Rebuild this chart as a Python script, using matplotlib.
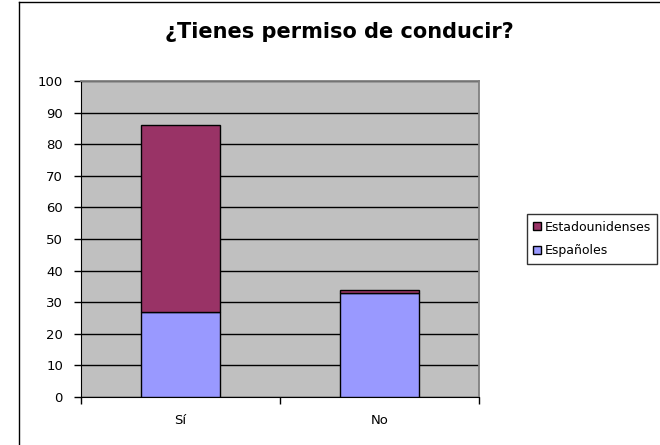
import matplotlib.pyplot as plt
from matplotlib.lines import Line2D
from matplotlib.patches import Patch

categories = ['Sí', 'No']
espanoles = [27, 33]
estadounidenses = [59, 1]
title = '¿Tienes permiso de conducir?'

fig = plt.figure(figsize=(6.6, 4.45), dpi=100)
plt.rcParams['font.family'] = ['DejaVu Sans']

# outer chart frame (only left and top edges fall inside the picture)
fig.add_artist(Line2D([19 / 660, 19 / 660], [0, 1 - 2 / 445], color='black', lw=1))
fig.add_artist(Line2D([19 / 660, 1], [1 - 2 / 445, 1 - 2 / 445], color='black', lw=1))

ax = fig.add_axes([81 / 660, 1 - 397 / 445, 398 / 660, 316 / 445])
ax.set_facecolor('#C0C0C0')

x = range(len(categories))
ax.bar(x, espanoles, width=0.4, color='#9999FF', edgecolor='black', lw=1, zorder=3)
ax.bar(x, estadounidenses, width=0.4, bottom=espanoles, color='#993366',
       edgecolor='black', lw=1, zorder=3)

ax.set_xlim(-0.5, 1.5)
ax.set_ylim(0, 100)
ax.set_yticks(range(0, 101, 10))
ax.yaxis.grid(True, color='black', lw=1, zorder=1)
ax.set_axisbelow(True)

ax.set_xticks(list(x))
ax.set_xticklabels(categories)
ax.set_xticks([-0.5, 0.5, 1.5], minor=True)
ax.tick_params(axis='x', which='major', length=0, pad=12, labelsize=9.5)
ax.tick_params(axis='x', which='minor', length=5, direction='out', width=1)
ax.tick_params(axis='y', length=5, direction='out', width=1, labelsize=9.5, pad=8)

for side in ['top', 'right']:
    ax.spines[side].set_color('#808080')
    ax.spines[side].set_linewidth(1.3)
for side in ['left', 'bottom']:
    ax.spines[side].set_color('black')

fig.text(339 / 660, 1 - 32 / 445, title, ha='center', va='center',
         fontsize=15, fontweight='bold')

handles = [Patch(facecolor='#993366', edgecolor='black', label='Estadounidenses'),
           Patch(facecolor='#9999FF', edgecolor='black', label='Españoles')]
leg = fig.legend(handles=handles, loc='center left', bbox_to_anchor=(527 / 660, 1 - 239 / 445),
                 fontsize=9, frameon=True, fancybox=False, borderpad=0.5,
                 handlelength=0.6, handleheight=0.6, handletextpad=0.3, labelspacing=0.85,
                 borderaxespad=0)
leg.get_frame().set_edgecolor('black')
leg.get_frame().set_linewidth(1)

fig.savefig('out.png', dpi=100)
